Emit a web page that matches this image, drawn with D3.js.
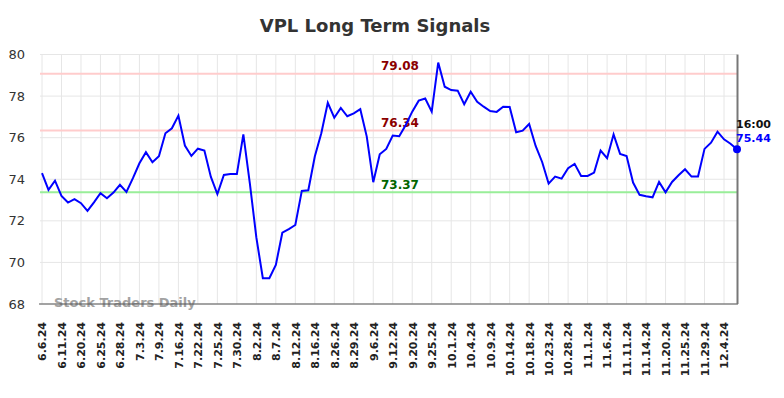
<!DOCTYPE html>
<html>
<head>
<meta charset="utf-8">
<script src="https://cdn.jsdelivr.net/npm/d3@7"></script>
<style>
    body { margin: 0; background: #fff; }
    text { font-family: "DejaVu Sans", sans-serif; }
</style>
</head>
<body>
<script>
var svgWidth = 784;
var svgHeight = 398;

// tick labels, one every 3 points
var tickLabels = ["6.6.24", "6.11.24", "6.20.24", "6.25.24", "6.28.24", "7.3.24", "7.9.24", "7.16.24",
    "7.22.24", "7.25.24", "7.30.24", "8.2.24", "8.7.24", "8.12.24", "8.16.24", "8.26.24", "8.29.24",
    "9.6.24", "9.12.24", "9.20.24", "9.25.24", "10.1.24", "10.4.24", "10.9.24", "10.14.24", "10.18.24",
    "10.23.24", "10.28.24", "11.1.24", "11.6.24", "11.11.24", "11.14.24", "11.20.24", "11.25.24",
    "11.29.24", "12.4.24"];

// closing prices
var prices = [74.29, 73.49, 73.93, 73.20, 72.88, 73.04, 72.85, 72.48, 72.89, 73.33,
    73.09, 73.36, 73.73, 73.39, 74.05, 74.77, 75.30, 74.82, 75.11, 76.21,
    76.45, 77.06, 75.62, 75.12, 75.47, 75.38, 74.11, 73.29, 74.21, 74.25,
    74.25, 76.16, 73.80, 71.20, 69.24, 69.24, 69.88, 71.43, 71.60, 71.80,
    73.44, 73.47, 75.09, 76.21, 77.68, 76.96, 77.43, 77.03, 77.17, 77.37,
    76.05, 73.86, 75.20, 75.46, 76.10, 76.07, 76.61, 77.25, 77.78, 77.88,
    77.25, 79.61, 78.45, 78.29, 78.26, 77.61, 78.21, 77.73, 77.49, 77.28,
    77.24, 77.49, 77.48, 76.26, 76.34, 76.66, 75.60, 74.83, 73.79, 74.13,
    74.03, 74.53, 74.74, 74.16, 74.16, 74.32, 75.38, 75.01, 76.16, 75.22,
    75.12, 73.84, 73.25, 73.18, 73.13, 73.87, 73.37, 73.87, 74.19, 74.48,
    74.13, 74.13, 75.46, 75.76, 76.29, 75.92, 75.71, 75.44];

// signal levels
var resistanceLevels = [79.08, 76.34];
var supportLevels = [73.37];

var yTicks = [68, 70, 72, 74, 76, 78, 80];

var svg = d3.select("body").append("svg").attr("width", svgWidth).attr("height", svgHeight);

var x = d3.scaleLinear().domain([0, prices.length - 1]).range([42, 737]);
var y = d3.scaleLinear().domain([68, 80]).range([304, 54.5]);

// title
svg.append("text")
    .attr("x", 375)
    .attr("y", 32)
    .attr("text-anchor", "middle")
    .attr("font-size", 18)
    .attr("font-weight", "bold")
    .attr("fill", "#333")
    .text("VPL Long Term Signals");

// grid
var tickIdx = d3.range(0, tickLabels.length * 3, 3);

svg.append("g").selectAll("line").data(tickIdx).join("line")
    .attr("x1", function(d) { return x(d); })
    .attr("x2", function(d) { return x(d); })
    .attr("y1", y(80))
    .attr("y2", y(68))
    .attr("stroke", "#e6e6e6")
    .attr("stroke-width", 1);

svg.append("g").selectAll("line").data(yTicks).join("line")
    .attr("x1", 40)
    .attr("x2", 737)
    .attr("y1", function(d) { return y(d); })
    .attr("y2", function(d) { return y(d); })
    .attr("stroke", "#e6e6e6")
    .attr("stroke-width", 1);

// y labels
svg.append("g").selectAll("text").data(yTicks).join("text")
    .attr("x", 25)
    .attr("y", function(d) { return y(d); })
    .attr("dy", "0.35em")
    .attr("text-anchor", "end")
    .attr("font-size", 13)
    .attr("fill", "#333")
    .text(function(d) { return d; });

// x axis
var xAxis = d3.axisBottom(x)
    .tickValues(tickIdx)
    .tickSize(0)
    .tickFormat(function(d, i) { return tickLabels[i]; });

var axisG = svg.append("g")
    .attr("transform", "translate(0," + y(68) + ")")
    .call(xAxis);

axisG.select(".domain").remove();
axisG.selectAll("text")
    .attr("transform", "rotate(-90)")
    .attr("text-anchor", "end")
    .attr("x", -18)
    .attr("y", 0)
    .attr("dy", "0.35em")
    .attr("font-size", 11)
    .attr("font-weight", "bold")
    .attr("font-family", "DejaVu Sans, sans-serif")
    .attr("fill", "#222");

// signal lines
svg.append("g").selectAll("line").data(resistanceLevels).join("line")
    .attr("x1", 40)
    .attr("x2", 737)
    .attr("y1", function(d) { return y(d); })
    .attr("y2", function(d) { return y(d); })
    .attr("stroke", "#ffcccc")
    .attr("stroke-width", 2);

svg.append("g").selectAll("line").data(supportLevels).join("line")
    .attr("x1", 40)
    .attr("x2", 737)
    .attr("y1", function(d) { return y(d); })
    .attr("y2", function(d) { return y(d); })
    .attr("stroke", "#99ee99")
    .attr("stroke-width", 2);

svg.append("g").selectAll("text").data(resistanceLevels).join("text")
    .attr("x", 381)
    .attr("y", function(d) { return y(d) - 4; })
    .attr("font-size", 12)
    .attr("font-weight", "bold")
    .attr("fill", "#8b0000")
    .text(function(d) { return d.toFixed(2); });

svg.append("g").selectAll("text").data(supportLevels).join("text")
    .attr("x", 381)
    .attr("y", function(d) { return y(d) - 3; })
    .attr("font-size", 12)
    .attr("font-weight", "bold")
    .attr("fill", "#006400")
    .text(function(d) { return d.toFixed(2); });

// watermark
svg.append("text")
    .attr("x", 54)
    .attr("y", 307)
    .attr("font-size", 13)
    .attr("font-weight", "bold")
    .attr("fill", "#999")
    .attr("opacity", 0.9)
    .text("Stock Traders Daily");

// axis borders
svg.append("line")
    .attr("x1", 39).attr("x2", 738)
    .attr("y1", y(68)).attr("y2", y(68))
    .attr("stroke", "#555").attr("stroke-width", 1.2);

svg.append("line")
    .attr("x1", 737.5).attr("x2", 737.5)
    .attr("y1", y(80)).attr("y2", y(68))
    .attr("stroke", "#777").attr("stroke-width", 2);

// price line
var line = d3.line()
    .x(function(d, i) { return x(i); })
    .y(function(d) { return y(d); });

svg.append("path")
    .datum(prices)
    .attr("d", line)
    .attr("fill", "none")
    .attr("stroke", "#0000ff")
    .attr("stroke-width", 2);

// last point
var lastIdx = prices.length - 1;
svg.append("circle")
    .attr("cx", x(lastIdx))
    .attr("cy", y(prices[lastIdx]))
    .attr("r", 4)
    .attr("fill", "#0000ff");

svg.append("text")
    .attr("x", 736)
    .attr("y", 128)
    .attr("font-size", 11)
    .attr("font-weight", "bold")
    .attr("fill", "#111")
    .text("16:00");

svg.append("text")
    .attr("x", 736)
    .attr("y", 142)
    .attr("font-size", 11)
    .attr("font-weight", "bold")
    .attr("fill", "#0000ff")
    .text(prices[lastIdx].toFixed(2));
</script>
</body>
</html>
